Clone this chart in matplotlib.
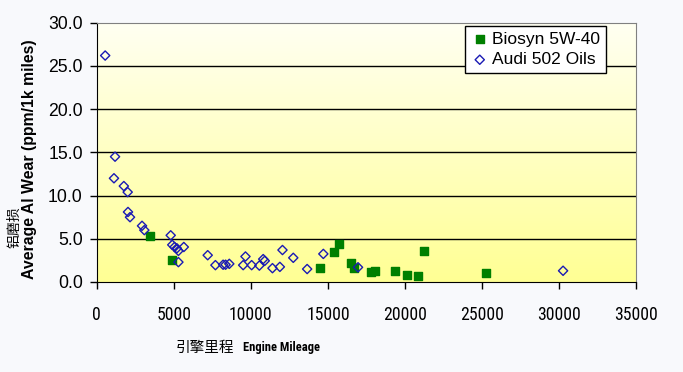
import numpy as np
import matplotlib
matplotlib.use('Agg')
import matplotlib.pyplot as plt
from matplotlib import font_manager

# dades llegides de la grafica
audi_x = [550, 1190, 1120, 1760, 2010, 2030, 2160, 2940, 3090, 4800, 4900, 5050,
          5200, 5300, 5650, 5300, 7200, 7700, 8200, 8360, 8600, 9650, 9500, 10050,
          10550, 10800, 10900, 11400, 11880, 12050, 12750, 13650, 14700, 16950, 30250]
audi_y = [26.2, 14.5, 12.0, 11.1, 10.4, 8.1, 7.5, 6.5, 6.0, 5.4, 4.3, 4.05,
          3.9, 3.6, 4.05, 2.3, 3.1, 1.95, 2.0, 2.0, 2.1, 2.95, 1.95, 1.95,
          1.9, 2.65, 2.45, 1.6, 1.75, 3.7, 2.8, 1.5, 3.25, 1.7, 1.3]

bio_x = [3480, 4880, 14480, 15360, 15690, 16480, 16680, 17780, 18040, 19360,
         20140, 20850, 21240, 25260]
bio_y = [5.35, 2.5, 1.65, 3.45, 4.45, 2.15, 1.6, 1.1, 1.3, 1.25, 0.8, 0.65, 3.6, 1.05]

x_ticks = [0, 5000, 10000, 15000, 20000, 25000, 30000, 35000]
y_ticks = [0.0, 5.0, 10.0, 15.0, 20.0, 25.0, 30.0]

# busquem una font estreta (tipus Arial Narrow)
noms = {f.name for f in font_manager.fontManager.ttflist}
narrow = None
for nom in ['Liberation Sans Narrow', 'Arial Narrow', 'Roboto Condensed']:
    if nom in noms:
        narrow = nom
        break
if narrow is None:
    cands = sorted(n for n in noms if 'Condensed' in n or 'Narrow' in n)
    narrow = cands[0] if cands else 'Liberation Sans'
cjk = ['Noto Sans CJK SC', 'DejaVu Sans']

fig = plt.figure(figsize=(6.83, 3.72), dpi=100, facecolor='#f8f9fc')
ax = fig.add_axes([96.7 / 683, 1 - 282 / 372, (636.3 - 96.7) / 683, (282 - 22.7) / 372])

# fons amb degradat groc
grad = np.linspace(0, 1, 256).reshape(-1, 1)
top = np.array([1.0, 1.0, 0.95])
bottom = np.array([1.0, 1.0, 0.58])
img = top + (bottom - top) * grad[:, :, None]
ax.imshow(img, extent=[0, 35000, 0, 30], aspect='auto', origin='upper', zorder=0)

for v in y_ticks[1:-1]:
    ax.axhline(v, color='black', lw=1, zorder=1)

ax.scatter(bio_x, bio_y, marker='s', s=40, color='#007f00', zorder=3, label='Biosyn 5W-40')
ax.scatter(audi_x, audi_y, marker='D', s=22, facecolor='none', edgecolor='#1a1ab4',
           linewidths=1, zorder=4, label='Audi 502 Oils')

ax.set_xlim(0, 35000)
ax.set_ylim(0, 30)
ax.set_xticks(x_ticks)
ax.set_yticks(y_ticks)
ax.set_xticklabels([str(t) for t in x_ticks], family=narrow, fontsize=12.7)
ax.set_yticklabels(['%.1f' % t for t in y_ticks], family='Liberation Sans', fontsize=12.7)
ax.tick_params(axis='x', direction='out', length=5, width=1, pad=12)
ax.tick_params(axis='y', direction='out', length=5, width=1, pad=5)

ax.spines['left'].set_color('black')
ax.spines['bottom'].set_color('black')
ax.spines['top'].set_color('#808080')
ax.spines['right'].set_color('#808080')

leg = ax.legend(loc='upper left', bbox_to_anchor=(465 / 683, 1 - 25.7 / 372),
                bbox_transform=fig.transFigure, frameon=True, fancybox=False,
                framealpha=1, edgecolor='black', borderaxespad=0,
                prop={'family': 'Liberation Sans', 'size': 12.5},
                handletextpad=0.2, handlelength=1.0, borderpad=0.35, labelspacing=0.3)
leg.get_frame().set_linewidth(1)

# etiquetes dels eixos
fig.text(30 / 683, 1 - 159 / 372, 'Average Al Wear (ppm/1k miles)', rotation=90,
         ha='center', va='center', fontsize=11.4, fontweight='bold', family='Liberation Sans')
fig.text(14 / 683, 1 - 227 / 372, '铝磨损', rotation=90, ha='center', va='center',
         fontsize=10, family=cjk)
fig.text(205 / 683, 1 - 348 / 372, '引擎里程', ha='center', va='center',
         fontsize=10.5, family=cjk)
fig.text(243 / 683, 1 - 347 / 372, 'Engine Mileage', ha='left', va='center',
         fontsize=9, fontweight='bold', family=narrow)

fig.savefig('out.png', dpi=100, facecolor=fig.get_facecolor())
